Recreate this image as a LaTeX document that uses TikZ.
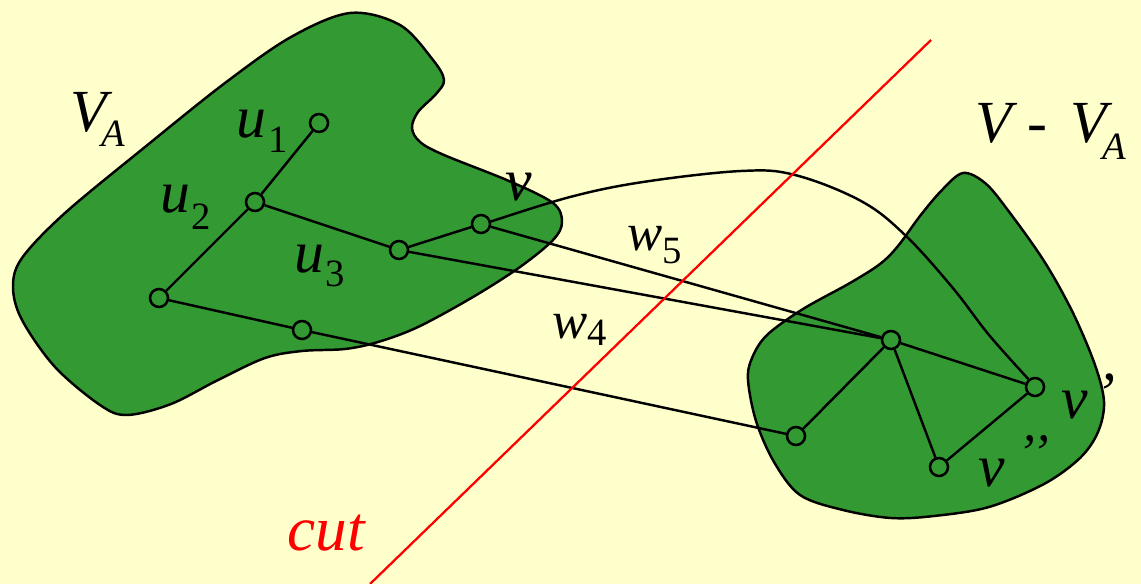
\documentclass[tikz,border=0pt]{standalone}
\usepackage{fontspec}
\setmainfont{Liberation Serif}
\definecolor{bg}{RGB}{255,255,204}
\definecolor{blobgreen}{RGB}{51,153,51}
\begin{document}
\begin{tikzpicture}[x=0.02cm,y=-0.02cm,
  vtx/.style={circle,draw,line width=1.45pt,fill=blobgreen,minimum size=0.36cm,inner sep=0pt},
  edge/.style={line width=1.4pt},
  blob/.style={draw,line width=1.4pt,fill=blobgreen,line join=round},
  lbl/.style={inner sep=0pt,anchor=base west,font=\fontsize{34}{34}\selectfont\itshape},
  wl/.style={inner sep=0pt,anchor=base west,font=\fontsize{30}{30}\selectfont\itshape},
  cutline/.style={red,line width=1.3pt}
]
\useasboundingbox (0,0) rectangle (1141,584);
\fill[bg] (0,0) rectangle (1141,584);

% left blob
\draw[blob] plot[smooth cycle, tension=0.55] coordinates {
 (350,13) (400,25) (433,60) (444,80) (436,94) (418,112) (412,128) (420,142) (444,155)
 (509,181) (553,203) (562,222) (553,240) (520,267) (473,297) (418,327) (378,342)
 (345,349) (302,351) (265,358) (218,380) (171,404) (127,415) (100,405) (55,367)
 (22,320) (13,287) (22,258) (65,213) (145,147) (225,83) (291,37)};

% right blob
\draw[blob] plot[smooth cycle, tension=0.55] coordinates {
 (963,173) (985,183) (1007,209) (1044,261) (1073,313) (1095,365) (1104,402)
 (1098,432) (1080,458) (1044,484) (989,507) (934,516) (891,518) (843,510)
 (800,495) (774,462) (756,421) (748,380) (752,358) (767,335) (803,309)
 (850,283) (880,264) (898,246) (920,216) (942,190)};

% vertices
\node[vtx] (u1) at (319,123) {};
\node[vtx] (u2) at (255,202) {};
\node[vtx] (a)  at (159,298) {};
\node[vtx] (u3) at (399,250) {};
\node[vtx] (v)  at (481,224) {};
\node[vtx] (m)  at (302,330) {};
\node[vtx] (h)  at (891,340) {};
\node[vtx] (rl) at (796,436) {};
\node[vtx] (vpp) at (939,467) {};
\node[vtx] (vp) at (1035,387) {};

% edges
\draw[edge] (u1) -- (u2);
\draw[edge] (u2) -- (a);
\draw[edge] (u2) -- (u3);
\draw[edge] (u3) -- (v);
\draw[edge] (a) -- (m);
\draw[edge] (m) -- (rl);
\draw[edge] (u3) -- (h);
\draw[edge] (v) -- (h);
\draw[edge] (h) -- (rl);
\draw[edge] (h) -- (vpp);
\draw[edge] (h) -- (vp);
\draw[edge] (vpp) -- (vp);
\draw[edge] plot[smooth, tension=0.6] coordinates {(v.14) (570,197) (643,182) (741,171) (795,175) (861,201) (905,235) (952,287) (989,335) (vp.130)};

% cut line
\coordinate (c1) at (370,584);
\coordinate (c2) at (931,40);
\draw[cutline] (c1) -- (c2);

% labels
\node[lbl] (VA) at (70,132) {V\kern-3pt\raisebox{-8.5pt}{\fontsize{22}{22}\selectfont A}};
\node[lbl] (u1l) at (236,138) {u\kern1.5pt\raisebox{-8.5pt}{\fontsize{22}{22}\selectfont\upshape 1}};
\node[lbl] (u2l) at (160,213) {u\kern0.5pt\raisebox{-9.6pt}{\fontsize{22}{22}\selectfont\upshape 2}};
\node[lbl] (u3l) at (294,272) {u\kern0.5pt\raisebox{-8.5pt}{\fontsize{22}{22}\selectfont\upshape 3}};
\node[lbl] (vl) at (505,200) {v};
\node[wl] (w5l) at (627,250) {w\raisebox{-7.4pt}{\fontsize{22}{22}\selectfont\upshape 5}};
\node[wl] (w4l) at (552,338) {w\raisebox{-4pt}{\fontsize{22}{22}\selectfont\upshape 4}};
\node[lbl] (VVA) at (975,143) {V\kern9pt{\upshape -}\kern13pt V\kern-2.5pt\raisebox{-9.6pt}{\fontsize{22}{22}\selectfont A}};
\node[lbl] (vpl) at (1061,418) {v};
\node[lbl] (vpq) at (1095,413) {’};
\node[lbl] (vppl) at (978,486) {v};
\node[inner sep=0pt,anchor=base west,font=\fontsize{30}{30}\selectfont\itshape] (vppq) at (1017,470) {’\kern-2pt’};
\node[inner sep=0pt,anchor=base west,font=\fontsize{36}{36}\selectfont\itshape,text=red] (cutl) at (287,550) {cut};
\end{tikzpicture}
\end{document}
